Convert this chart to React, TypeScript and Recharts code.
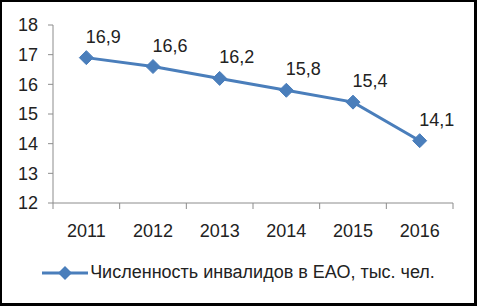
import React from 'react';
import { LineChart, Line, XAxis, YAxis, LabelList } from 'recharts';

const years = ['2011', '2012', '2013', '2014', '2015', '2016'];
const disabled = [16.9, 16.6, 16.2, 15.8, 15.4, 14.1];
const yTicks = [12, 13, 14, 15, 16, 17, 18];
const seriesName = 'Численность инвалидов в ЕАО, тыс. чел.';

const data = years.map((year, i) => ({ year, value: disabled[i] }));

const BLUE = '#4a7ebb';
const AXIS = '#8c8c8c';
const TEXT = '#222';
const FONT = '"Liberation Sans", Arial, sans-serif';
const HALF = 400 / years.length / 2;

const Diamond = (props: any) => {
    const { cx, cy } = props;
    if (cx == null || cy == null) return null;
    const r = 7;
    return (
        <path
            d={`M${cx},${cy - r} L${cx + r},${cy} L${cx},${cy + r} L${cx - r},${cy} Z`}
            fill={BLUE}
            stroke={BLUE}
        />
    );
};

// tick marks between categories like in Excel
const XTick = (props: any) => {
    const { x, y, payload, index } = props;
    return (
        <g>
            <line x1={x - HALF} y1={y - 8} x2={x - HALF} y2={y - 2} stroke={AXIS} />
            {index === years.length - 1 && (
                <line x1={x + HALF} y1={y - 8} x2={x + HALF} y2={y - 2} stroke={AXIS} />
            )}
            <text x={x} y={y + 26} textAnchor="middle" fill={TEXT} fontSize={18} fontFamily={FONT}>
                {payload.value}
            </text>
        </g>
    );
};

const ValueLabel = (props: any) => {
    const { x, y, value } = props;
    return (
        <text x={x + 17} y={y - 15} textAnchor="middle" fill={TEXT} fontSize={18} fontFamily={FONT}>
            {String(value).replace('.', ',')}
        </text>
    );
};

const App = () => (
    <div style={{ position: 'absolute', left: 0, top: 0, width: 477, height: 306, background: '#fff' }}>
        <LineChart width={477} height={306} data={data} margin={{ top: 25, right: 24, left: 0, bottom: 43 }}>
            <XAxis
                dataKey="year"
                stroke={AXIS}
                tickLine={false}
                tick={<XTick />}
                interval={0}
                height={60}
                padding={{ left: HALF, right: HALF }}
            />
            <YAxis
                domain={[12, 18]}
                ticks={yTicks}
                interval={0}
                stroke={AXIS}
                width={53}
                tickSize={5}
                tickMargin={10}
                tick={{ fill: TEXT, fontSize: 18, fontFamily: FONT }}
            />
            <Line
                type="linear"
                dataKey="value"
                name={seriesName}
                stroke={BLUE}
                strokeWidth={3}
                dot={<Diamond />}
                activeDot={false}
                isAnimationActive={false}
            >
                <LabelList dataKey="value" content={<ValueLabel />} />
            </Line>
        </LineChart>
        <div
            style={{
                position: 'absolute',
                left: 0,
                top: 262,
                width: 477,
                display: 'flex',
                alignItems: 'center',
                justifyContent: 'center',
                fontFamily: FONT,
                fontSize: 18,
                color: TEXT,
            }}
        >
            <svg width={46} height={16} style={{ marginRight: 2 }}>
                <line x1={0} y1={8} x2={46} y2={8} stroke={BLUE} strokeWidth={3} />
                <path d="M23,1 L30,8 L23,15 L16,8 Z" fill={BLUE} />
            </svg>
            <span>{seriesName}</span>
        </div>
        <div
            style={{
                position: 'absolute',
                left: 0,
                top: 0,
                width: 477,
                height: 306,
                boxSizing: 'border-box',
                borderStyle: 'solid',
                borderColor: '#000',
                borderWidth: '2px 3px 3px 2px',
                pointerEvents: 'none',
            }}
        />
    </div>
);

export default App;
